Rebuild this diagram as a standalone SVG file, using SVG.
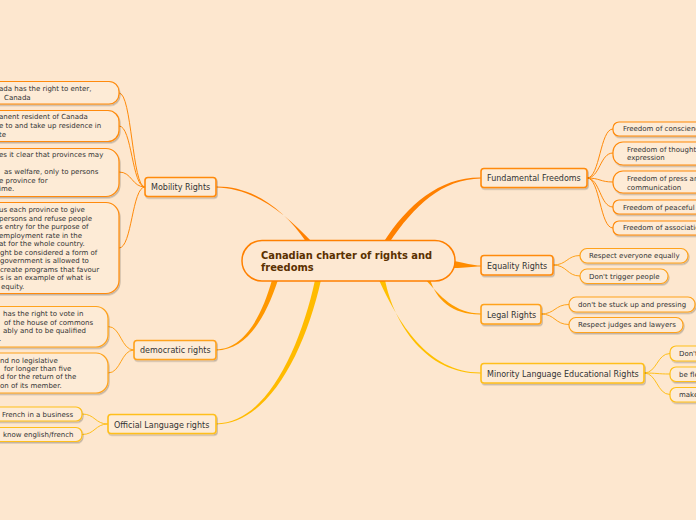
<svg xmlns="http://www.w3.org/2000/svg" width="696" height="520" viewBox="0 0 696 520">
<defs>
<filter id="sh" x="-10%" y="-20%" width="120%" height="160%"><feDropShadow dx="1" dy="1.5" stdDeviation="0.7" flood-color="#000" flood-opacity="0.22"/></filter>
<style>
.main rect{fill:#fdebd6;stroke-width:1.6;filter:url(#sh)}
.sub rect{fill:#fdebd6;stroke-width:1.2;filter:url(#sh)}
.mt{font-family:"DejaVu Sans",Verdana,sans-serif;font-size:8px;fill:#333}
.st{font-family:"DejaVu Sans",Verdana,sans-serif;font-size:7px;fill:#333}
.c1{stroke:#ff8a0a}
.c2{stroke:#ffa21a}
.c3{stroke:#ffbf1a}
.ln{fill:none;stroke-width:1}
</style>
</defs>
<rect width="696" height="520" fill="#fde7cf"/>

<g id="connectors">
<path d="M307,243 C282,206 250,186 216,186.5 L216,187.5 C250,188 280,208 313,243 Z" fill="#ff8000"/>
<path d="M383,243 C408,204 440,177 481,177.5 L481,178.5 C442,179 414,206 389,243 Z" fill="#ff8000"/>
<path d="M454,261 C465,263 472,265.5 481,265.5 L481,266.5 C472,266.5 465,268 454,268 Z" fill="#ff8c00"/>
<path d="M425,279 C440,296 455,313.5 481,313.5 L481,314.5 C453,315 436,300 430,279 Z" fill="#ff9d00"/>
<path d="M379,280 C398,322 428,373 481,372.5 L481,373.5 C426,374 394,324 385,280 Z" fill="#ffc000"/>
<path d="M272,280 C262,315 245,349 216,349.5 L216,350.5 C248,350 266,316 278,280 Z" fill="#ff9800"/>
<path d="M315,280 C300,350 265,424 216,423.5 L216,424.5 C268,424 305,352 321,280 Z" fill="#ffbb00"/>

<path class="ln c1" d="M145,187 C132,187 132,93 119,93"/>
<path class="ln c1" d="M145,187 C132,187 132,126 119,126"/>
<path class="ln c1" d="M145,187 C132,187 132,172 119,172"/>
<path class="ln c1" d="M145,187 C132,187 132,248 119,248"/>
<path class="ln c1" d="M587,178 C600,178 600,129 613,129"/>
<path class="ln c1" d="M587,178 C600,178 600,153 613,153"/>
<path class="ln c1" d="M587,178 C600,178 600,182 613,182"/>
<path class="ln c1" d="M587,178 C600,178 600,207 613,207"/>
<path class="ln c1" d="M587,178 C600,178 600,228 613,228"/>
<path class="ln c2" d="M553,265 C567,265 567,255.5 580,255.5"/>
<path class="ln c2" d="M553,265 C567,265 567,276 580,276"/>
<path class="ln c2" d="M541,314 C555,314 555,304.5 569,304.5"/>
<path class="ln c2" d="M541,314 C555,314 555,324.5 569,324.5"/>
<path class="ln c3" d="M644,373 C657,373 657,353.5 670,353.5"/>
<path class="ln c3" d="M644,373 C657,373 657,374 670,374"/>
<path class="ln c3" d="M644,373 C657,373 657,394.5 670,394.5"/>
<path class="ln c2" d="M134,350 C121,350 121,326.5 108,326.5"/>
<path class="ln c2" d="M134,350 C121,350 121,373 108,373"/>
<path class="ln c3" d="M108,424 C95,424 95,414 82,414"/>
<path class="ln c3" d="M108,424 C95,424 95,434.5 82,434.5"/>
</g>

<g id="center">
<rect x="242" y="240.5" width="213" height="40.5" rx="20" fill="#fde8d2" stroke="#ff8000" stroke-width="1.5"/>
<text font-family="'DejaVu Sans',Verdana,sans-serif" font-size="9.9" font-weight="bold" fill="#5a3000"><tspan x="261" y="259">Canadian charter of rights and</tspan><tspan x="261" y="271">freedoms</tspan></text>
</g>

<g id="mobility" class="main"><rect class="c1" x="145" y="177.5" width="71" height="19" rx="3"/><text class="mt" x="151" y="190">Mobility Rights</text></g>
<g id="fundamental" class="main"><rect class="c1" x="481" y="168.5" width="106" height="19" rx="3"/><text class="mt" x="487" y="181">Fundamental Freedoms</text></g>
<g id="equality" class="main"><rect class="c1" x="481" y="255.5" width="72" height="19.5" rx="3"/><text class="mt" x="487" y="269">Equality Rights</text></g>
<g id="legal" class="main"><rect class="c2" x="481" y="304.5" width="60" height="19.5" rx="3"/><text class="mt" x="487" y="317.5">Legal Rights</text></g>
<g id="minority" class="main"><rect class="c3" x="481" y="363.5" width="163" height="19.5" rx="3"/><text class="mt" x="487" y="376.5">Minority Language Educational Rights</text></g>
<g id="democratic" class="main"><rect class="c2" x="134" y="340.5" width="82" height="19" rx="3"/><text class="mt" x="140" y="353">democratic rights</text></g>
<g id="official" class="main"><rect class="c3" x="108" y="414.5" width="108" height="19" rx="3"/><text class="mt" x="114" y="427.5">Official Language rights</text></g>

<g id="mob1" class="sub"><rect class="c1" x="-30" y="81.5" width="149" height="22.5" rx="10"/><text class="st"><tspan x="-1" y="91">ada has the right to enter,</tspan><tspan x="4" y="100">Canada</tspan></text></g>
<g id="mob2" class="sub"><rect class="c1" x="-30" y="110.5" width="149" height="31" rx="11"/><text class="st"><tspan x="-1" y="119">anent resident of Canada</tspan><tspan x="-1" y="128">e to and take up residence in</tspan><tspan x="-1" y="137">te</tspan></text></g>
<g id="mob3" class="sub"><rect class="c1" x="-30" y="148.5" width="149" height="48" rx="13"/><text class="st"><tspan x="-1" y="157">es it clear that provinces may</tspan><tspan x="4" y="174">as welfare, only to persons</tspan><tspan x="-1" y="182.5">e province for</tspan><tspan x="-1" y="191">ime.</tspan></text></g>
<g id="mob4" class="sub"><rect class="c1" x="-30" y="202.5" width="149" height="91" rx="13"/><text class="st"><tspan x="-1" y="212">us each province to give</tspan><tspan x="-1" y="220.5">persons and refuse people</tspan><tspan x="-1" y="229">s entry for the purpose of</tspan><tspan x="-1" y="237.5">employment rate in the</tspan><tspan x="-1" y="246">at for the whole country.</tspan><tspan x="0" y="254.5">ght be considered a form of</tspan><tspan x="0" y="263">government is allowed to</tspan><tspan x="0" y="271.5">create programs that favour</tspan><tspan x="0" y="280">s is an example of what is</tspan><tspan x="1" y="288.5">equity.</tspan></text></g>

<g id="dem1" class="sub"><rect class="c2" x="-30" y="306.5" width="138" height="40.5" rx="12"/><text class="st"><tspan x="3" y="316">has the right to vote in</tspan><tspan x="4" y="324.5">of the house of commons</tspan><tspan x="3" y="333">ably and to be qualified</tspan><tspan x="-1" y="341">.</tspan></text></g>
<g id="dem2" class="sub"><rect class="c2" x="-30" y="353" width="138" height="40" rx="12"/><text class="st"><tspan x="0" y="363">nd no legislative</tspan><tspan x="4" y="371">for longer than five</tspan><tspan x="0" y="379">d for the return of the</tspan><tspan x="0" y="387.5">on of its member.</tspan></text></g>

<g id="off1" class="sub"><rect class="c3" x="-30" y="407" width="112" height="14" rx="6"/><text class="st" x="2" y="416.5">French in a business</text></g>
<g id="off2" class="sub"><rect class="c3" x="-30" y="427.5" width="112" height="14" rx="6"/><text class="st" x="3" y="437">know english/french</text></g>

<g id="fun1" class="sub"><rect class="c1" x="613" y="122" width="110" height="14" rx="6"/><text class="st" x="623" y="131">Freedom of conscience</text></g>
<g id="fun2" class="sub"><rect class="c1" x="613" y="142" width="110" height="23" rx="10"/><text class="st"><tspan x="627" y="152">Freedom of thought</tspan><tspan x="627" y="160">expression</tspan></text></g>
<g id="fun3" class="sub"><rect class="c1" x="613" y="171" width="110" height="22" rx="10"/><text class="st"><tspan x="627" y="181">Freedom of press and</tspan><tspan x="627" y="189.5">communication</tspan></text></g>
<g id="fun4" class="sub"><rect class="c1" x="613" y="200" width="110" height="14" rx="6"/><text class="st" x="623" y="209.5">Freedom of peaceful</text></g>
<g id="fun5" class="sub"><rect class="c1" x="613" y="221" width="110" height="14" rx="6"/><text class="st" x="623" y="230">Freedom of association</text></g>

<g id="eq1" class="sub"><rect class="c2" x="580" y="248.5" width="108" height="14.5" rx="7"/><text class="st" x="589" y="258">Respect everyone equally</text></g>
<g id="eq2" class="sub"><rect class="c2" x="580" y="269" width="88" height="14.5" rx="7"/><text class="st" x="589" y="278.5">Don't trigger people</text></g>

<g id="leg1" class="sub"><rect class="c2" x="569" y="297" width="126" height="15" rx="7"/><text class="st" x="578" y="307">don't be stuck up and pressing</text></g>
<g id="leg2" class="sub"><rect class="c2" x="569" y="317.5" width="114" height="15" rx="7"/><text class="st" x="578" y="327">Respect judges and lawyers</text></g>

<g id="min1" class="sub"><rect class="c3" x="670" y="346" width="60" height="15" rx="6"/><text class="st" x="679" y="356">Don't</text></g>
<g id="min2" class="sub"><rect class="c3" x="670" y="367" width="60" height="14.5" rx="6"/><text class="st" x="679" y="376.5">be flexible</text></g>
<g id="min3" class="sub"><rect class="c3" x="670" y="387.5" width="60" height="14.5" rx="6"/><text class="st" x="679" y="397">make</text></g>
</svg>
